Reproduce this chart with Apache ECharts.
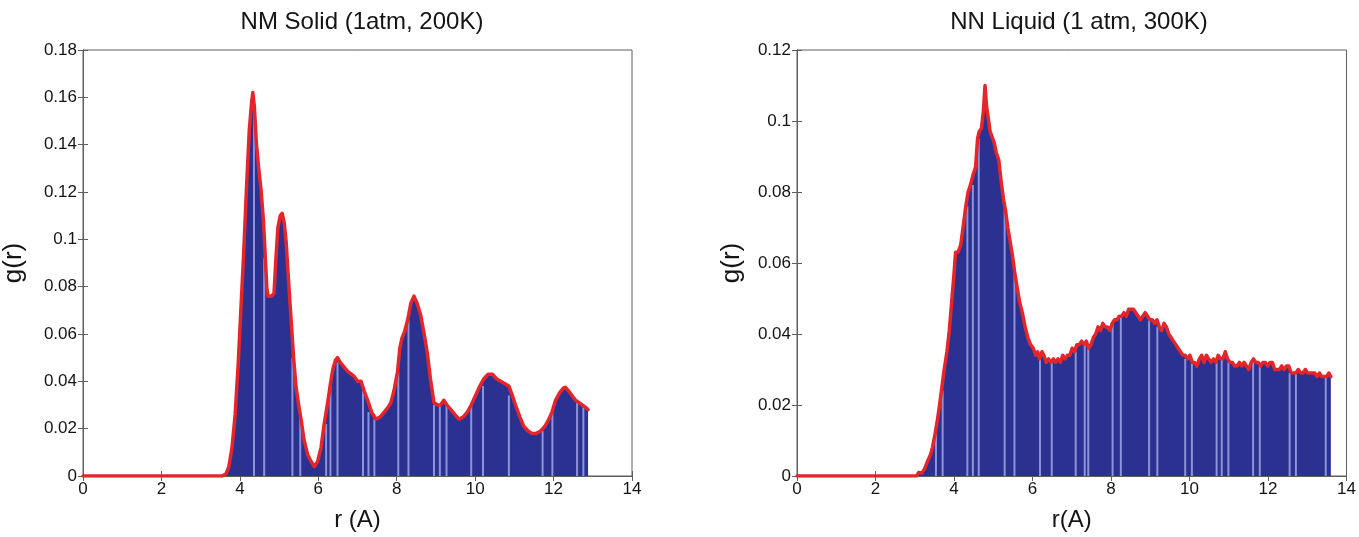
<!DOCTYPE html>
<html>
<head>
<meta charset="utf-8">
<title>Radial distribution functions</title>
<script src="https://cdn.jsdelivr.net/npm/echarts@6/dist/echarts.min.js"></script>
<style>
  html, body { margin: 0; padding: 0; background: #ffffff; }
  #chart { width: 1359px; height: 537px; }
</style>
</head>
<body>
<div id="chart"></div>
<script>
// Solid phase g(r) samples (r in Angstrom)
const rSolid = [0, 3.55, 3.65, 3.72, 3.80, 3.88, 3.96, 4.04, 4.10, 4.17, 4.24, 4.30, 4.33, 4.37, 4.42, 4.48, 4.54, 4.60, 4.65, 4.69, 4.72, 4.80, 4.87, 4.92, 4.97, 5.03, 5.08, 5.13, 5.18, 5.24, 5.31, 5.37, 5.43, 5.50, 5.56, 5.64, 5.73, 5.82, 5.90, 5.98, 6.07, 6.15, 6.24, 6.31, 6.37, 6.44, 6.49, 6.56, 6.66, 6.76, 6.85, 6.92, 7.00, 7.09, 7.17, 7.26, 7.36, 7.47, 7.58, 7.68, 7.78, 7.85, 7.93, 8.02, 8.08, 8.13, 8.20, 8.28, 8.36, 8.44, 8.52, 8.61, 8.70, 8.78, 8.86, 8.95, 9.05, 9.12, 9.20, 9.28, 9.38, 9.48, 9.59, 9.70, 9.80, 9.90, 10.01, 10.12, 10.22, 10.33, 10.44, 10.55, 10.65, 10.76, 10.86, 10.95, 11.03, 11.14, 11.24, 11.35, 11.45, 11.56, 11.67, 11.78, 11.88, 11.96, 12.05, 12.15, 12.24, 12.30, 12.38, 12.47, 12.56, 12.65, 12.73, 12.82, 12.88];
const gSolid = [0, 0, 0.001, 0.004, 0.012, 0.026, 0.048, 0.075, 0.095, 0.122, 0.146, 0.158, 0.162, 0.156, 0.141, 0.130, 0.121, 0.108, 0.092, 0.079, 0.076, 0.076, 0.077, 0.092, 0.105, 0.110, 0.111, 0.107, 0.099, 0.083, 0.065, 0.050, 0.038, 0.030, 0.024, 0.015, 0.009, 0.006, 0.004, 0.006, 0.012, 0.022, 0.031, 0.039, 0.045, 0.049, 0.050, 0.048, 0.046, 0.044, 0.043, 0.042, 0.040, 0.040, 0.036, 0.032, 0.027, 0.024, 0.025, 0.027, 0.029, 0.031, 0.036, 0.044, 0.054, 0.058, 0.061, 0.066, 0.073, 0.076, 0.073, 0.068, 0.060, 0.052, 0.041, 0.031, 0.030, 0.030, 0.032, 0.030, 0.028, 0.026, 0.024, 0.025, 0.027, 0.030, 0.034, 0.038, 0.041, 0.043, 0.043, 0.041, 0.040, 0.039, 0.038, 0.034, 0.030, 0.025, 0.021, 0.019, 0.018, 0.018, 0.019, 0.021, 0.024, 0.027, 0.032, 0.035, 0.037, 0.0375, 0.036, 0.034, 0.032, 0.031, 0.030, 0.029, 0.028];

// Liquid phase g(r) samples
const rLiquid = [0, 3.05, 3.10, 3.18, 3.25, 3.32, 3.40, 3.45, 3.52, 3.58, 3.62, 3.68, 3.75, 3.82, 3.88, 3.94, 4.00, 4.04, 4.10, 4.17, 4.23, 4.30, 4.36, 4.42, 4.49, 4.55, 4.60, 4.64, 4.70, 4.75, 4.79, 4.83, 4.87, 4.92, 4.97, 5.02, 5.08, 5.14, 5.20, 5.26, 5.31, 5.37, 5.43, 5.49, 5.55, 5.61, 5.67, 5.74, 5.81, 5.88, 5.95, 6.02, 6.08, 6.13, 6.18, 6.24, 6.29, 6.35, 6.41, 6.47, 6.53, 6.59, 6.65, 6.71, 6.77, 6.83, 6.89, 6.95, 7.01, 7.07, 7.13, 7.19, 7.25, 7.31, 7.37, 7.43, 7.49, 7.55, 7.61, 7.67, 7.73, 7.79, 7.85, 7.91, 7.97, 8.03, 8.09, 8.15, 8.21, 8.27, 8.33, 8.39, 8.45, 8.51, 8.57, 8.63, 8.69, 8.75, 8.81, 8.87, 8.93, 8.99, 9.05, 9.11, 9.17, 9.23, 9.29, 9.35, 9.41, 9.47, 9.53, 9.59, 9.65, 9.71, 9.77, 9.83, 9.89, 9.95, 10.01, 10.07, 10.13, 10.19, 10.25, 10.31, 10.37, 10.43, 10.49, 10.55, 10.61, 10.67, 10.73, 10.79, 10.85, 10.91, 10.97, 11.03, 11.09, 11.15, 11.21, 11.27, 11.33, 11.39, 11.45, 11.51, 11.57, 11.63, 11.69, 11.75, 11.81, 11.87, 11.93, 11.99, 12.05, 12.11, 12.17, 12.23, 12.29, 12.35, 12.41, 12.47, 12.53, 12.59, 12.65, 12.71, 12.77, 12.83, 12.89, 12.95, 13.01, 13.07, 13.13, 13.19, 13.25, 13.31, 13.37, 13.43, 13.49, 13.55, 13.60];
const gLiquid = [0, 0, 0.001, 0.0008, 0.002, 0.004, 0.006, 0.008, 0.012, 0.016, 0.019, 0.024, 0.030, 0.035, 0.041, 0.049, 0.057, 0.063, 0.063, 0.065, 0.070, 0.076, 0.080, 0.082, 0.085, 0.087, 0.095, 0.097, 0.098, 0.103, 0.110, 0.104, 0.101, 0.097, 0.097, 0.094, 0.091, 0.089, 0.083, 0.078, 0.075, 0.070, 0.066, 0.062, 0.057, 0.053, 0.049, 0.046, 0.042, 0.039, 0.037, 0.036, 0.034, 0.035, 0.033, 0.035, 0.034, 0.032, 0.033, 0.032, 0.033, 0.032, 0.033, 0.032, 0.034, 0.033, 0.034, 0.034, 0.036, 0.035, 0.037, 0.037, 0.038, 0.037, 0.038, 0.036, 0.037, 0.039, 0.040, 0.042, 0.041, 0.043, 0.042, 0.042, 0.041, 0.043, 0.044, 0.044, 0.045, 0.045, 0.046, 0.045, 0.047, 0.047, 0.047, 0.046, 0.045, 0.044, 0.045, 0.046, 0.045, 0.044, 0.044, 0.043, 0.044, 0.042, 0.041, 0.043, 0.042, 0.040, 0.039, 0.038, 0.037, 0.036, 0.035, 0.034, 0.034, 0.033, 0.034, 0.032, 0.032, 0.031, 0.033, 0.034, 0.032, 0.034, 0.033, 0.032, 0.033, 0.032, 0.034, 0.033, 0.033, 0.035, 0.033, 0.032, 0.032, 0.031, 0.031, 0.032, 0.031, 0.032, 0.031, 0.030, 0.032, 0.033, 0.032, 0.032, 0.031, 0.032, 0.032, 0.031, 0.032, 0.032, 0.030, 0.030, 0.030, 0.031, 0.030, 0.031, 0.031, 0.029, 0.029, 0.029, 0.030, 0.029, 0.029, 0.030, 0.029, 0.029, 0.029, 0.029, 0.028, 0.029, 0.028, 0.028, 0.028, 0.029, 0.028];

// Positions of the pale seams between histogram bins
const seamsSolid = [4.36, 4.62, 5.34, 5.54, 6.20, 6.31, 6.49, 7.14, 7.28, 7.43, 8.04, 8.30, 8.95, 9.10, 9.27, 9.90, 10.20, 10.86, 11.72, 11.97, 12.60, 12.76];
const seamsLiquid = [3.54, 3.71, 4.34, 4.48, 4.63, 5.29, 5.54, 6.19, 6.49, 7.10, 7.33, 7.42, 8.04, 8.25, 8.97, 9.18, 9.89, 10.06, 10.69, 10.82, 10.99, 11.62, 11.79, 12.55, 12.71, 13.47];

// Axis settings
const titles = ['NM Solid (1atm, 200K)', 'NN Liquid (1 atm, 300K)'];
const xNames = ['r (A)', 'r(A)'];
const yName = 'g(r)';
const xMin = 0, xMax = 14, xStep = 2;
const yMaxes = [0.18, 0.12];
const yStep = 0.02;

const FONT = '"Liberation Sans", Arial, Helvetica, sans-serif';
const NAVY = '#2b3190';
const RED = '#e4262a';
const SEAM = '#8d93d8';
const FRAME = '#5e5e5e';
const TEXT = '#141414';

function pairs(rs, gs) {
  return rs.map((r, i) => [r, gs[i]]);
}

// A seam reaches up to the lower of the two samples around it
function seamBars(seams, rs, gs) {
  return seams.map(x => {
    let i = 0;
    while (i < rs.length - 2 && rs[i + 1] <= x) i++;
    return [x, Math.min(gs[i], gs[i + 1])];
  });
}

const grids = [
  { left: 82, top: 50, width: 550, height: 436 },
  { left: 797, top: 50, width: 554, height: 436 }
];

const option = {
  backgroundColor: '#ffffff',
  animation: false,
  title: titles.map((t, k) => ({
    text: t,
    left: grids[k].left + grids[k].width / 2,
    textAlign: 'center',
    top: 5,
    textStyle: { fontFamily: FONT, fontSize: 24, fontWeight: 'normal', color: TEXT }
  })),
  grid: grids.map(g => Object.assign({
    show: true, borderColor: FRAME, borderWidth: 1, backgroundColor: '#ffffff', containLabel: false
  }, g)),
  xAxis: [],
  yAxis: [],
  series: []
};

[0, 1].forEach(k => {
  // bottom axis with labels
  option.xAxis.push({
    type: 'value', gridIndex: k, min: xMin, max: xMax, interval: xStep,
    position: 'bottom',
    name: xNames[k], nameLocation: 'middle', nameGap: 32,
    nameTextStyle: { fontFamily: FONT, fontSize: 24, color: TEXT },
    axisLine: { show: true, onZero: false, lineStyle: { color: FRAME, width: 1 } },
    axisTick: { show: true, inside: true, length: 5, lineStyle: { color: FRAME } },
    axisLabel: { fontFamily: FONT, fontSize: 17, color: TEXT, margin: 5 },
    splitLine: { show: false }
  });
  // top axis: ticks only
  option.xAxis.push({
    type: 'value', gridIndex: k, min: xMin, max: xMax, interval: xStep,
    position: 'top',
    axisLine: { show: true, lineStyle: { color: FRAME, width: 1 } },
    axisTick: { show: true, inside: true, length: 5, lineStyle: { color: FRAME } },
    axisLabel: { show: false },
    splitLine: { show: false }
  });
  // left axis with labels
  option.yAxis.push({
    type: 'value', gridIndex: k, min: 0, max: yMaxes[k], interval: yStep,
    position: 'left',
    name: yName, nameLocation: 'middle', nameGap: k === 0 ? 56 : 52,
    nameRotate: 90,
    nameTextStyle: { fontFamily: FONT, fontSize: 26, color: TEXT },
    axisLine: { show: true, onZero: false, lineStyle: { color: FRAME, width: 1 } },
    axisTick: { show: true, inside: true, length: 5, lineStyle: { color: FRAME } },
    axisLabel: { fontFamily: FONT, fontSize: 17, color: TEXT, margin: 6 },
    splitLine: { show: false }
  });
  // right axis: ticks only
  option.yAxis.push({
    type: 'value', gridIndex: k, min: 0, max: yMaxes[k], interval: yStep,
    position: 'right',
    axisLine: { show: true, lineStyle: { color: FRAME, width: 1 } },
    axisTick: { show: true, inside: true, length: 5, lineStyle: { color: FRAME } },
    axisLabel: { show: false },
    splitLine: { show: false }
  });
});

const sets = [
  { r: rSolid, g: gSolid, seams: seamsSolid },
  { r: rLiquid, g: gLiquid, seams: seamsLiquid }
];

sets.forEach((s, k) => {
  const xi = k * 2, yi = k * 2;
  const data = pairs(s.r, s.g);
  // filled histogram body
  option.series.push({
    type: 'line', xAxisIndex: xi, yAxisIndex: yi, data: data,
    showSymbol: false, symbol: 'none', silent: true,
    lineStyle: { width: 0, opacity: 0 },
    areaStyle: { color: NAVY, opacity: 1, origin: 'start' },
    z: 2
  });
  // pale bin seams
  option.series.push({
    type: 'bar', xAxisIndex: xi, yAxisIndex: yi,
    data: seamBars(s.seams, s.r, s.g),
    barWidth: 2, silent: true,
    itemStyle: { color: SEAM },
    z: 3
  });
  // outline curve
  option.series.push({
    type: 'line', xAxisIndex: xi, yAxisIndex: yi, data: data,
    showSymbol: false, symbol: 'none', silent: true,
    lineStyle: { color: RED, width: 3.5, join: 'round', cap: 'round' },
    z: 4
  });
});

const chart = echarts.init(document.getElementById('chart'), null, { renderer: 'canvas' });
chart.setOption(option);
</script>
</body>
</html>
